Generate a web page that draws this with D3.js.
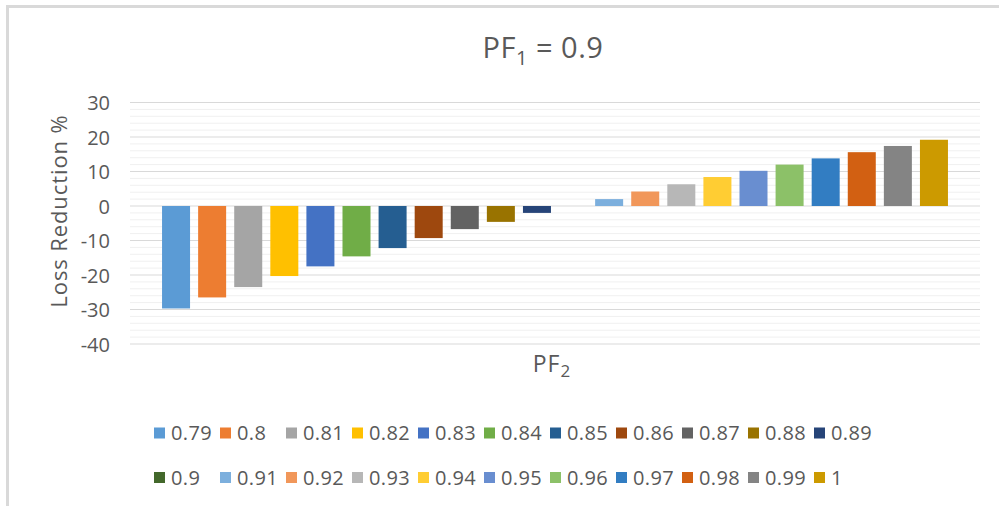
<!DOCTYPE html>
<html><head><meta charset="utf-8">
<script src="https://cdn.jsdelivr.net/npm/d3@7"></script>
<style>html,body{margin:0;padding:0;background:#fff;} svg{display:block;font-family:"Open Sans",sans-serif;}</style>
</head><body>
<script>
const categories = ["0.79","0.8","0.81","0.82","0.83","0.84","0.85","0.86","0.87","0.88","0.89","0.9","0.91","0.92","0.93","0.94","0.95","0.96","0.97","0.98","0.99","1"];
const values = [-29.7,-26.5,-23.5,-20.3,-17.5,-14.6,-12.2,-9.3,-6.7,-4.6,-2.0,0,2.0,4.2,6.3,8.4,10.2,12.0,13.8,15.6,17.4,19.2];
const colors = ["#5B9BD5","#ED7D31","#A5A5A5","#FFC000","#4472C4","#70AD47","#255E91","#9E480E","#636363","#997300","#264478","#43682B","#7CAFDD","#F1975A","#B7B7B7","#FFCD33","#698ED0","#8CC168","#327DC2","#D26012","#848484","#CC9A00"];
const yTicks = [30,20,10,0,-10,-20,-30,-40];

const W=999,H=506;
const svg=d3.select("body").append("svg").attr("width",W).attr("height",H);
// border (cropped chart frame)
svg.append("path").attr("d","M7.5,506 V6.5 H999").attr("fill","none").attr("stroke","#d9d9d9").attr("stroke-width",3);

const plotL=130, plotR=980;
const y=d3.scaleLinear().domain([-40,30]).range([344,102.5]);
const x=d3.scaleBand().domain(categories).range([158,952]).paddingInner(0.224).paddingOuter(0.112);

// minor gridlines
const minor=d3.range(-40,31,2).filter(v=>v%10!==0);
svg.append("g").selectAll("line").data(minor).join("line")
  .attr("x1",plotL).attr("x2",plotR).attr("y1",d=>y(d)).attr("y2",d=>y(d))
  .attr("stroke","#f0f0f0").attr("stroke-width",1);
// major gridlines
svg.append("g").selectAll("line").data(yTicks).join("line")
  .attr("x1",plotL).attr("x2",plotR).attr("y1",d=>y(d)).attr("y2",d=>y(d))
  .attr("stroke","#d9d9d9").attr("stroke-width",1.2);

// y axis labels
const yAxis=d3.axisLeft(y).tickValues(yTicks).tickSize(0).tickPadding(0).tickFormat(d=>String(d));
const ga=svg.append("g").attr("transform","translate(110,0)").call(yAxis);
ga.select(".domain").remove();
ga.selectAll("text").attr("fill","#595959").style("font-size","20px").style("font-family","'Open Sans',sans-serif").attr("dy","0.35em");

// bars
svg.append("g").selectAll("rect").data(categories).join("rect")
  .attr("x",d=>x(d)).attr("width",x.bandwidth())
  .attr("y",(d,i)=>y(Math.max(0,values[i])))
  .attr("height",(d,i)=>Math.abs(y(values[i])-y(0)))
  .attr("fill",(d,i)=>colors[i]);

// title
const t=svg.append("text").attr("x",543).attr("y",58).attr("text-anchor","middle").attr("fill","#595959").style("font-size","29px").style("letter-spacing","0.5px");
t.append("tspan").text("PF");
t.append("tspan").text("1").style("font-size","20px").attr("dy",7);
t.append("tspan").text(" = 0.9").attr("dy",-7);

// y axis title
svg.append("text").attr("transform","translate(67,211) rotate(-90)").attr("text-anchor","middle")
  .attr("fill","#595959").style("font-size","22px").style("letter-spacing","0.9px").text("Loss Reduction %");

// x axis title
const xt=svg.append("text").attr("x",552).attr("y",372).attr("text-anchor","middle").attr("fill","#595959").style("font-size","23px").style("letter-spacing","1px");
xt.append("tspan").text("PF");
xt.append("tspan").text("2").style("font-size","17px").attr("dy",5);

// legend
const lg=svg.append("g").selectAll("g").data(categories).join("g")
  .attr("transform",(d,i)=>`translate(${154+66*(i%11)},${i<11?433:477.5})`);
lg.append("rect").attr("x",0).attr("y",-5.5).attr("width",11).attr("height",11).attr("fill",(d,i)=>colors[i]);
lg.append("text").attr("x",17).attr("y",0).attr("dy","0.35em").attr("fill","#595959").style("font-size","20px").style("letter-spacing","0.4px").text(d=>d);
</script>
</body></html>
